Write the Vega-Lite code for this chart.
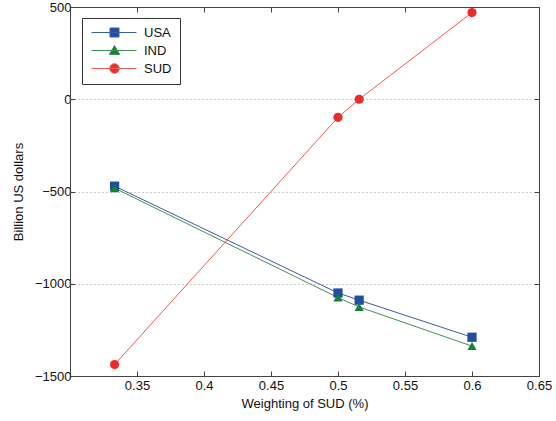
{
  "$schema": "https://vega.github.io/schema/vega-lite/v6.json",
  "autosize": "none",
  "width": 469,
  "height": 369,
  "padding": {"left": 70, "top": 7, "right": 17, "bottom": 45},
  "background": "white",
  "config": {
    "view": {"stroke": "#444", "strokeWidth": 1},
    "font": "Liberation Sans",
    "axis": {
      "domainColor": "#444",
      "tickColor": "#444",
      "labelFont": "Liberation Sans",
      "titleFont": "Liberation Sans",
      "labelFontSize": 13,
      "titleFontSize": 13,
      "labelColor": "#111",
      "titleColor": "#111",
      "titleFontWeight": "normal"
    }
  },
  "data": {
    "values": [
      {"Country": "USA", "w": 0.3333, "v": -471},
      {"Country": "USA", "w": 0.5, "v": -1050},
      {"Country": "USA", "w": 0.5158, "v": -1089},
      {"Country": "USA", "w": 0.6, "v": -1290},
      {"Country": "IND", "w": 0.3333, "v": -482},
      {"Country": "IND", "w": 0.5, "v": -1075},
      {"Country": "IND", "w": 0.5158, "v": -1126},
      {"Country": "IND", "w": 0.6, "v": -1338},
      {"Country": "SUD", "w": 0.3333, "v": -1438},
      {"Country": "SUD", "w": 0.5, "v": -98},
      {"Country": "SUD", "w": 0.5158, "v": 0},
      {"Country": "SUD", "w": 0.6, "v": 470}
    ]
  },
  "layer": [
    {
      "mark": {"type": "line", "strokeWidth": 1},
      "encoding": {
        "x": {
          "field": "w", "type": "quantitative",
          "scale": {"domain": [0.3, 0.65], "nice": false, "zero": false},
          "axis": {
            "orient": "bottom",
            "values": [0.35, 0.4, 0.45, 0.5, 0.55, 0.6, 0.65],
            "format": "~g",
            "title": "Weighting of SUD (%)",
            "grid": false,
            "tickSize": -5,
            "labelPadding": 8,
            "titlePadding": 5,
            "labelFlush": false
          }
        },
        "y": {
          "field": "v", "type": "quantitative",
          "scale": {"domain": [-1500, 500], "nice": false, "zero": false},
          "axis": {
            "orient": "left",
            "values": [-1500, -1000, -500, 0, 500],
            "format": "d",
            "title": "Billion US dollars",
            "grid": true,
            "gridColor": "#999",
            "gridDash": [1, 3],
            "gridWidth": 1,
            "tickSize": -5,
            "labelPadding": 4,
            "titlePadding": 9,
            "labelFlush": false
          }
        },
        "color": {
          "field": "Country", "type": "nominal",
          "scale": {"range": ["#3f9254", "#ee5a55", "#3a5da8"]},
          "legend": null
        }
      }
    },
    {
      "transform": [{"filter": "datum.Country === 'USA'"}],
      "mark": {"type": "point", "filled": true, "opacity": 1, "size": 85, "shape": "square", "color": "#1f4ea3"},
      "encoding": {
        "x": {
          "field": "w", "type": "quantitative",
          "axis": {"orient": "top", "labels": false, "title": null, "grid": false, "tickSize": -5, "values": [0.35, 0.4, 0.45, 0.5, 0.55, 0.6, 0.65]}
        },
        "y": {
          "field": "v", "type": "quantitative",
          "axis": {"orient": "right", "labels": false, "title": null, "grid": false, "tickSize": -5, "values": [-1500, -1000, -500, 0, 500]}
        }
      }
    },
    {
      "transform": [{"filter": "datum.Country === 'IND'"}],
      "mark": {"type": "point", "filled": true, "opacity": 1, "size": 85, "shape": "triangle-up", "color": "#17803a"},
      "encoding": {
        "x": {"field": "w", "type": "quantitative", "axis": null},
        "y": {"field": "v", "type": "quantitative", "axis": null}
      }
    },
    {
      "transform": [{"filter": "datum.Country === 'SUD'"}],
      "mark": {"type": "point", "filled": true, "opacity": 1, "size": 85, "shape": "circle", "color": "#ea2d2a"},
      "encoding": {
        "x": {"field": "w", "type": "quantitative", "axis": null},
        "y": {"field": "v", "type": "quantitative", "axis": null}
      }
    },
    {
      "mark": {"type": "point", "opacity": 0, "strokeWidth": 1},
      "encoding": {
        "x": {"field": "w", "type": "quantitative", "axis": null},
        "y": {"field": "v", "type": "quantitative", "axis": null},
        "fill": {
          "field": "Country", "type": "nominal",
          "scale": {"domain": ["USA", "IND", "SUD"], "range": ["#1f4ea3", "#17803a", "#ea2d2a"]}
        },
        "stroke": {
          "field": "Country", "type": "nominal",
          "scale": {"domain": ["USA", "IND", "SUD"], "range": ["#3a5da8", "#3f9254", "#ee5a55"]}
        },
        "shape": {
          "field": "Country", "type": "nominal",
          "scale": {
            "domain": ["USA", "IND", "SUD"],
            "range": [
              "M-1,0H8M2.7,-0.9H4.5V0.9H2.7Z",
              "M-1,0H8M3.6,-1L4.65,0.8H2.55Z",
              "M-1,0H8M2.65,0A0.95,0.95,0,1,1,4.55,0A0.95,0.95,0,1,1,2.65,0Z"
            ]
          },
          "legend": {
            "orient": "none",
            "legendX": 12,
            "legendY": 11,
            "title": null,
            "padding": 8,
            "symbolSize": 100,
            "symbolOpacity": 1,
            "symbolStrokeWidth": 1,
            "labelOffset": 41,
            "labelFont": "Liberation Sans",
            "labelFontSize": 13,
            "labelColor": "#111",
            "rowPadding": 3,
            "strokeColor": "#333",
            "fillColor": "white",
            "encode": {
              "symbols": {
                "update": {
                  "opacity": {"value": 1},
                  "fillOpacity": {"value": 1},
                  "strokeOpacity": {"value": 1}
                }
              }
            }
          }
        }
      }
    }
  ],
  "resolve": {
    "axis": {"x": "independent", "y": "independent"}
  }
}
